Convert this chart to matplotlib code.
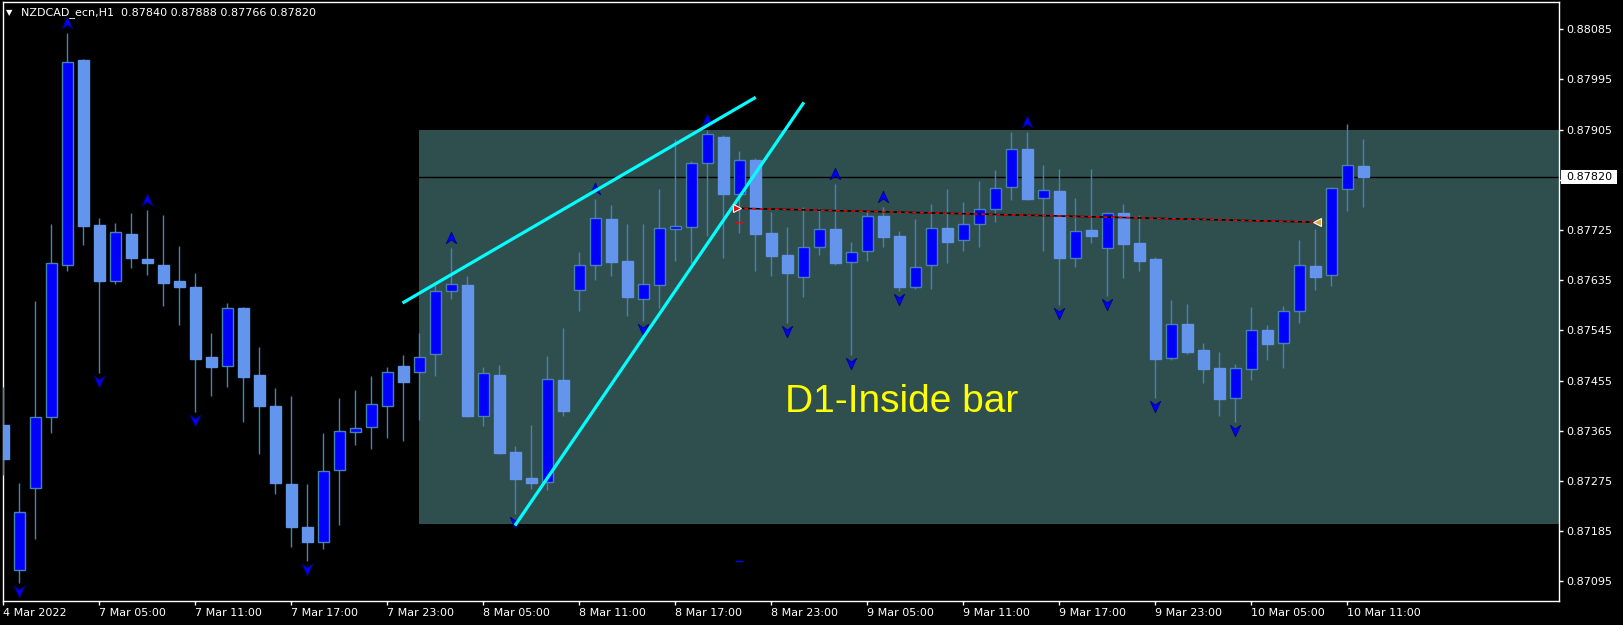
import numpy as np
import matplotlib
matplotlib.use("Agg")
import matplotlib.pyplot as plt
from matplotlib.patches import Rectangle
from matplotlib.path import Path
import matplotlib.transforms as mtransforms

# ---------------- data ----------------
title_text = "NZDCAD_ecn,H1  0.87840 0.87888 0.87766 0.87820"

opens = [0.87375, 0.87116, 0.87263, 0.87389, 0.87663, 0.88030, 0.87734, 0.87634, 0.87718, 0.87673,
         0.87662, 0.87634, 0.87623, 0.87497, 0.87481, 0.87585, 0.87464, 0.87409, 0.87269, 0.87193,
         0.87165, 0.87294, 0.87363, 0.87371, 0.87410, 0.87481, 0.87470, 0.87502, 0.87616, 0.87626,
         0.87392, 0.87465, 0.87327, 0.87280, 0.87273, 0.87456, 0.87617, 0.87662, 0.87745, 0.87669,
         0.87602, 0.87626, 0.87726, 0.87730, 0.87846, 0.87892, 0.87790, 0.87851, 0.87719, 0.87680,
         0.87640, 0.87694, 0.87727, 0.87667, 0.87687, 0.87750, 0.87714, 0.87622, 0.87662, 0.87729,
         0.87707, 0.87735, 0.87762, 0.87802, 0.87870, 0.87782, 0.87795, 0.87674, 0.87725, 0.87692,
         0.87756, 0.87702, 0.87673, 0.87495, 0.87556, 0.87510, 0.87477, 0.87424, 0.87475, 0.87546,
         0.87522, 0.87580, 0.87660, 0.87644, 0.87798, 0.87840]
highs = [0.87444, 0.87271, 0.87598, 0.87736, 0.88079, 0.88031, 0.87746, 0.87738, 0.87756, 0.87761,
         0.87752, 0.87696, 0.87648, 0.87540, 0.87594, 0.87587, 0.87515, 0.87441, 0.87428, 0.87269,
         0.87360, 0.87424, 0.87438, 0.87463, 0.87479, 0.87501, 0.87540, 0.87626, 0.87692, 0.87643,
         0.87479, 0.87483, 0.87338, 0.87375, 0.87499, 0.87549, 0.87685, 0.87781, 0.87770, 0.87736,
         0.87736, 0.87799, 0.87888, 0.87849, 0.87904, 0.87895, 0.87866, 0.87854, 0.87757, 0.87731,
         0.87766, 0.87764, 0.87808, 0.87703, 0.87760, 0.87766, 0.87723, 0.87745, 0.87772, 0.87799,
         0.87775, 0.87813, 0.87833, 0.87901, 0.87901, 0.87842, 0.87834, 0.87782, 0.87834, 0.87757,
         0.87772, 0.87752, 0.87677, 0.87599, 0.87592, 0.87522, 0.87506, 0.87484, 0.87587, 0.87555,
         0.87589, 0.87707, 0.87726, 0.87802, 0.87915, 0.87888]
lows = [0.87285, 0.87092, 0.87171, 0.87361, 0.87652, 0.87698, 0.87469, 0.87628, 0.87656, 0.87645,
        0.87589, 0.87555, 0.87399, 0.87428, 0.87444, 0.87381, 0.87323, 0.87252, 0.87157, 0.87132,
        0.87153, 0.87195, 0.87340, 0.87333, 0.87352, 0.87347, 0.87384, 0.87463, 0.87601, 0.87390,
        0.87374, 0.87323, 0.87216, 0.87261, 0.87259, 0.87391, 0.87580, 0.87636, 0.87643, 0.87571,
        0.87562, 0.87585, 0.87670, 0.87666, 0.87715, 0.87675, 0.87720, 0.87652, 0.87643, 0.87558,
        0.87604, 0.87681, 0.87663, 0.87501, 0.87670, 0.87694, 0.87616, 0.87620, 0.87620, 0.87666,
        0.87688, 0.87695, 0.87740, 0.87778, 0.87779, 0.87688, 0.87591, 0.87659, 0.87702, 0.87607,
        0.87639, 0.87652, 0.87423, 0.87492, 0.87502, 0.87451, 0.87392, 0.87381, 0.87456, 0.87491,
        0.87478, 0.87558, 0.87617, 0.87625, 0.87759, 0.87766]
closes = [0.87314, 0.87219, 0.87389, 0.87665, 0.88026, 0.87733, 0.87634, 0.87721, 0.87674, 0.87666,
          0.87630, 0.87622, 0.87494, 0.87480, 0.87585, 0.87462, 0.87410, 0.87271, 0.87193, 0.87166,
          0.87292, 0.87364, 0.87369, 0.87412, 0.87470, 0.87453, 0.87498, 0.87615, 0.87628, 0.87391,
          0.87468, 0.87325, 0.87278, 0.87272, 0.87457, 0.87401, 0.87662, 0.87746, 0.87668, 0.87604,
          0.87628, 0.87728, 0.87732, 0.87846, 0.87897, 0.87790, 0.87850, 0.87718, 0.87679, 0.87648,
          0.87694, 0.87726, 0.87666, 0.87686, 0.87750, 0.87713, 0.87622, 0.87658, 0.87728, 0.87704,
          0.87735, 0.87762, 0.87800, 0.87870, 0.87781, 0.87796, 0.87674, 0.87723, 0.87715, 0.87755,
          0.87700, 0.87670, 0.87494, 0.87556, 0.87507, 0.87476, 0.87422, 0.87477, 0.87545, 0.87521,
          0.87579, 0.87662, 0.87641, 0.87800, 0.87841, 0.87820]

up_fractals = [4, 9, 28, 37, 44, 52, 55, 64]
down_fractals = [1, 6, 12, 19, 32, 40, 49, 53, 56, 66, 69, 72, 77]

time_tick_pos = [0, 6, 12, 18, 24, 30, 36, 42, 48, 54, 60, 66, 72, 78, 84]
time_tick_labels = ["4 Mar 2022", "7 Mar 05:00", "7 Mar 11:00", "7 Mar 17:00", "7 Mar 23:00",
                    "8 Mar 05:00", "8 Mar 11:00", "8 Mar 17:00", "8 Mar 23:00",
                    "9 Mar 05:00", "9 Mar 11:00", "9 Mar 17:00", "9 Mar 23:00",
                    "10 Mar 05:00", "10 Mar 11:00"]
price_ticks = [0.87095, 0.87185, 0.87275, 0.87365, 0.87455, 0.87545, 0.87635,
               0.87725, 0.87815, 0.87905, 0.87995, 0.88085]
hidden_tick = 0.87815   # covered by the current-price box in the reference
current_price = 0.87820

box_start_bar = 26
box_high = 0.87904
box_low = 0.87198

trend1_x = [24.95, 47.03]
trend1_y = [0.87594, 0.87963]
trend2_x = [31.98, 50.04]
trend2_y = [0.87195, 0.87954]
signal_x = [45.84, 82.09]
signal_y = [0.87764, 0.87739]

label_text = "D1-Inside bar"

# ---------------- figure ----------------
W, H = 1623, 625
fig = plt.figure(figsize=(W / 100, H / 100), dpi=100, facecolor="black")
ax = fig.add_axes([2.5 / W, 1 - 601 / H, (1559.3 - 2.5) / W, (601 - 2.3) / H])
ax.set_facecolor("black")

x = np.arange(len(opens))
o = np.array(opens); h = np.array(highs); l = np.array(lows); c = np.array(closes)

ax.set_xlim(-0.05, 97.25)
ax.set_ylim(0.870595, 0.881334)

# inside-bar rectangle
ax.add_patch(Rectangle((box_start_bar, box_low), 200, box_high - box_low,
                       facecolor="#2F4F4F", edgecolor="none", zorder=1))

# current price line
ax.axhline(current_price, color="black", lw=1, zorder=2)

wick_color = "#4682B4"
ax.vlines(x, l, h, color=wick_color, lw=1, zorder=3)
bull = c >= o
min_h = 0.000018
body_bottom = np.minimum(o, c)
body_h = np.maximum(np.abs(c - o), min_h)
ax.bar(x[bull], body_h[bull], bottom=body_bottom[bull], width=0.66,
       color="#0000FF", edgecolor="#4682B4", lw=1, zorder=4)
ax.bar(x[~bull], body_h[~bull], bottom=body_bottom[~bull], width=0.66,
       color="#6495ED", edgecolor="#6495ED", lw=1, zorder=4)

# fractal arrows
up_path = Path([(0, 0.6), (0.5, -0.5), (0, -0.15), (-0.5, -0.5), (0, 0.6)],
               [Path.MOVETO, Path.LINETO, Path.LINETO, Path.LINETO, Path.CLOSEPOLY])
down_path = Path([(0, -0.6), (0.5, 0.5), (0, 0.15), (-0.5, 0.5), (0, -0.6)],
                 [Path.MOVETO, Path.LINETO, Path.LINETO, Path.LINETO, Path.CLOSEPOLY])
t_up = ax.transData + mtransforms.ScaledTranslation(0, 10 / 100, fig.dpi_scale_trans)
t_dn = ax.transData + mtransforms.ScaledTranslation(0, -8 / 100, fig.dpi_scale_trans)
ax.plot(x[up_fractals], h[up_fractals], ls="none", marker=up_path, ms=9,
        mfc="#0000FF", mec="#00008B", mew=0.6, transform=t_up, zorder=5)
ax.plot(x[down_fractals], l[down_fractals], ls="none", marker=down_path, ms=9,
        mfc="#0000FF", mec="#00008B", mew=0.6, transform=t_dn, zorder=5)

# trend lines
ax.plot(trend1_x, trend1_y, color="#00FFFF", lw=2.3, zorder=6, solid_capstyle="butt")
ax.plot(trend2_x, trend2_y, color="#00FFFF", lw=2.3, zorder=6, solid_capstyle="butt")

# signal line (red/black dashed)
ax.plot(signal_x, signal_y, color="black", lw=1.1, zorder=6)
ax.plot(signal_x, signal_y, color="red", lw=1.1, zorder=6, dashes=(2.5, 2.5))
ax.plot([signal_x[0]], [signal_y[0]], marker=">", ms=6, mfc="red", mec="white", mew=0.8, zorder=7)
ax.plot([signal_x[1]], [signal_y[1]], marker="<", ms=6, mfc="#E8A33C", mec="white", mew=0.8, zorder=7)
ax.plot([46.0], [0.87740], marker="_", ms=6, color="red", mew=1, zorder=7)
ax.plot([46.0], [0.87131], marker="_", ms=6, color="#0000FF", mew=1, zorder=7)

# label
ax.text(48.86, 0.87399, label_text, color="#FFFF00", fontsize=28,
        family=["Liberation Sans", "DejaVu Sans"], va="baseline", ha="left", zorder=8)

# axes styling
for s in ax.spines.values():
    s.set_color("white")
    s.set_linewidth(1)
ax.yaxis.tick_right()
ax.set_yticks(price_ticks)
ax.set_yticklabels(["" if p == hidden_tick else f"{p:.5f}" for p in price_ticks])
ax.set_xticks(time_tick_pos)
ax.set_xticklabels(time_tick_labels, ha="left")
ax.tick_params(axis="both", colors="white", labelcolor="white", length=3, width=1,
               direction="out", pad=2, labelsize=8)
for lab in ax.get_xticklabels():
    lab.set_horizontalalignment("left")

# current price box on the axis
bt = mtransforms.blended_transform_factory(ax.transAxes, ax.transData)
ax_w = 1559.3 - 2.5
ax.add_patch(Rectangle(((1561 - 2.5) / ax_w, current_price - 0.000122),
                       (1617 - 1561) / ax_w, 0.000242, transform=bt,
                       facecolor="white", edgecolor="none", clip_on=False, zorder=20))
ax.text((1566 - 2.5) / ax_w, current_price, f"{current_price:.5f}", transform=bt,
        color="black", fontsize=8, va="center", ha="left", clip_on=False, zorder=21)

# title
fig.text(6 / W, 1 - 12.7 / H, "\u25BC", color="white", fontsize=6, va="center", ha="left")
fig.text(21 / W, 1 - 12.7 / H, title_text, color="white", fontsize=8, va="center", ha="left")

fig.savefig("out.png", dpi=100, facecolor="black")
